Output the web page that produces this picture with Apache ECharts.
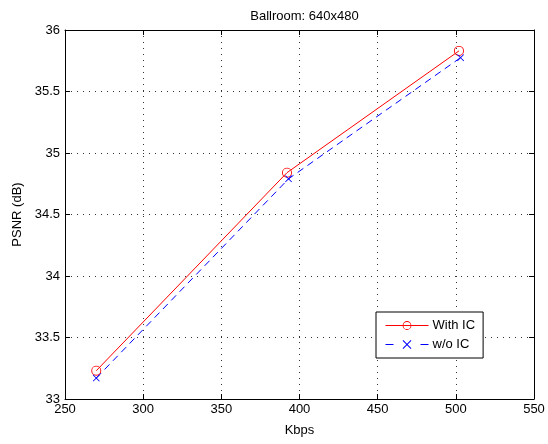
<!DOCTYPE html>
<html>
<head>
<meta charset="utf-8">
<script src="https://cdn.jsdelivr.net/npm/echarts@6/dist/echarts.min.js"></script>
<style>
  html, body { margin: 0; padding: 0; background: #fff; }
  #chart { width: 548px; height: 444px; }
</style>
</head>
<body>
<div id="chart"></div>
<script>
// Rate-distortion points for the Ballroom sequence
const seriesNames = ['With IC', 'w/o IC'];
const kbpsWithIC = [270, 392, 502];
const psnrWithIC = [33.23, 34.84, 35.83];
const kbpsNoIC = [270, 393, 503];
const psnrNoIC = [33.17, 34.79, 35.775];

const xRange = [250, 550];
const yRange = [33, 36];
const xStep = 50;
const yStep = 0.5;

const FONT = 'Liberation Sans, Arial, Helvetica, sans-serif';

// Thin open ring marker (outer and inner circles wound in opposite directions)
const ringPath = 'path://M5,0A5,5,0,1,1,5,10A5,5,0,1,1,5,0ZM5,0.9A4.1,4.1,0,1,0,5,9.1A4.1,4.1,0,1,0,5,0.9Z';
// Thin "x" marker
const crossPath = 'path://M0,0.8L0.8,0L5,4.2L9.2,0L10,0.8L5.8,5L10,9.2L9.2,10L5,5.8L0.8,10L0,9.2L4.2,5Z';

const pairs = (xs, ys) => xs.map((x, i) => [x, ys[i]]);

const gridDots = { show: true, lineStyle: { color: '#333', width: 1, type: [1, 5] } };

const chart = echarts.init(document.getElementById('chart'), null, { renderer: 'canvas' });
chart.setOption({
  animation: false,
  backgroundColor: '#fff',
  title: {
    text: 'Ballroom: 640x480',
    left: 299.5,
    textAlign: 'center',
    top: 5,
    textStyle: { fontFamily: FONT, fontSize: 13, fontWeight: 'normal', color: '#000' }
  },
  grid: { left: 65, right: 14, top: 30, bottom: 45, containLabel: false },
  xAxis: [{
    type: 'value',
    min: xRange[0], max: xRange[1], interval: xStep,
    name: 'Kbps', nameLocation: 'middle', nameGap: 25,
    nameTextStyle: { fontFamily: FONT, fontSize: 13, color: '#000' },
    axisLine: { show: true, lineStyle: { color: '#000', width: 1 } },
    axisTick: { show: true, inside: true, length: 5, lineStyle: { color: '#000' } },
    axisLabel: { fontFamily: FONT, fontSize: 13, color: '#000', margin: 4 },
    splitLine: gridDots
  }, {
    type: 'value', position: 'top',
    min: xRange[0], max: xRange[1], interval: xStep,
    axisLine: { show: true, lineStyle: { color: '#000', width: 1 } },
    axisTick: { show: true, inside: true, length: 5, lineStyle: { color: '#000' } },
    axisLabel: { show: false },
    splitLine: { show: false }
  }],
  yAxis: [{
    type: 'value',
    min: yRange[0], max: yRange[1], interval: yStep,
    name: 'PSNR (dB)', nameLocation: 'middle', nameGap: 40,
    nameTextStyle: { fontFamily: FONT, fontSize: 13, color: '#000' },
    axisLine: { show: true, lineStyle: { color: '#000', width: 1 } },
    axisTick: { show: true, inside: true, length: 5, lineStyle: { color: '#000' } },
    axisLabel: { fontFamily: FONT, fontSize: 13, color: '#000', margin: 5 },
    splitLine: gridDots
  }, {
    type: 'value', position: 'right',
    min: yRange[0], max: yRange[1], interval: yStep,
    axisLine: { show: true, lineStyle: { color: '#000', width: 1 } },
    axisTick: { show: true, inside: true, length: 5, lineStyle: { color: '#000' } },
    axisLabel: { show: false },
    splitLine: { show: false }
  }],
  legend: {
    orient: 'vertical',
    left: 376, top: 312,
    padding: [7, 8, 7, 9],
    itemGap: 6,
    itemWidth: 43, itemHeight: 11,
    backgroundColor: '#fff',
    borderColor: '#000', borderWidth: 1,
    textStyle: { fontFamily: FONT, fontSize: 13, color: '#000', padding: [0, 0, 0, -1] },
    data: [
      { name: seriesNames[0], lineStyle: { width: 1, type: 'solid' } },
      { name: seriesNames[1], lineStyle: { width: 1, type: [8, 27] } }
    ]
  },
  series: [{
    name: seriesNames[0],
    type: 'line',
    xAxisIndex: 0, yAxisIndex: 0,
    data: pairs(kbpsWithIC, psnrWithIC),
    symbol: ringPath, symbolSize: 10,
    lineStyle: { color: '#ff0000', width: 1, type: 'solid' },
    itemStyle: { color: '#ff0000' },
    emphasis: { disabled: true }
  }, {
    name: seriesNames[1],
    type: 'line',
    xAxisIndex: 0, yAxisIndex: 0,
    data: pairs(kbpsNoIC, psnrNoIC),
    symbol: crossPath, symbolSize: 7,
    lineStyle: { color: '#0000ff', width: 1, type: [7, 5] },
    itemStyle: { color: '#0000ff' },
    emphasis: { disabled: true }
  }]
});
</script>
</body>
</html>
